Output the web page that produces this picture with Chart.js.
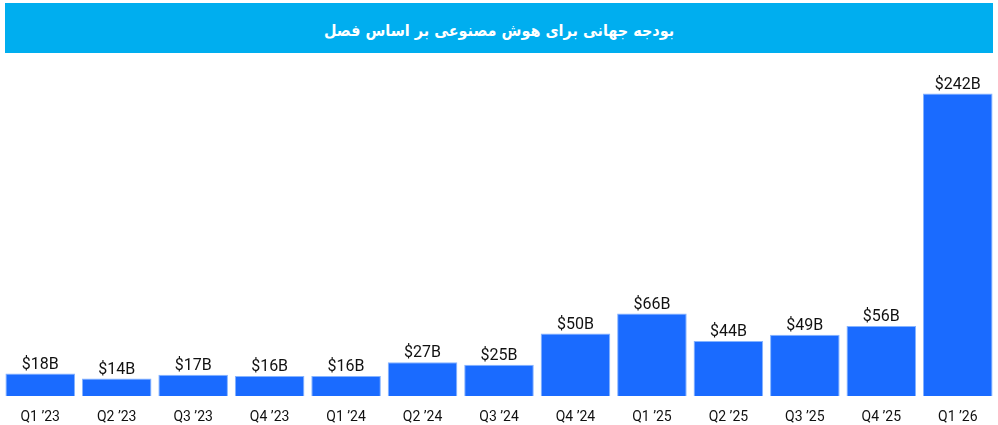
<!DOCTYPE html>
<html>
<head>
<meta charset="utf-8">
<script src="https://cdn.jsdelivr.net/npm/chart.js@4"></script>
<style>
    html, body { margin: 0; padding: 0; background: #fff; }
    #wrap { position: relative; width: 998px; height: 425px; }
    #title {
        position: absolute; left: 5px; top: 3px; width: 988px; height: 50px;
        box-sizing: border-box; padding-top: 5px;
        background: #00aeef; color: #fff;
        font-family: "DejaVu Sans Condensed", "DejaVu Sans", sans-serif; font-stretch: condensed;
        font-weight: bold; font-size: 16px;
        display: flex; align-items: center; justify-content: center;
        direction: rtl;
    }
    #ai-budget-chart { position: absolute; left: 0; top: 0; }
</style>
</head>
<body>
<div id="wrap">
    <canvas id="ai-budget-chart" width="998" height="425"></canvas>
    <div id="title">بودجه جهانی برای هوش مصنوعی بر اساس فصل</div>
</div>
<script>
// Quarterly AI spend (billions USD)
const quarters = ['Q1 ’23', 'Q2 ’23', 'Q3 ’23', 'Q4 ’23', 'Q1 ’24', 'Q2 ’24', 'Q3 ’24',
    'Q4 ’24', 'Q1 ’25', 'Q2 ’25', 'Q3 ’25', 'Q4 ’25', 'Q1 ’26'];
const budget = [18, 14, 17, 16, 16, 27, 25, 50, 66, 44, 49, 56, 242];

// draws "$xxB" above each bar
const valueLabels = {
    id: 'valueLabels',
    afterDatasetsDraw(chart) {
        const ctx = chart.ctx;
        const meta = chart.getDatasetMeta(0);
        ctx.save();
        ctx.font = '16px Roboto';
        ctx.fillStyle = '#111';
        ctx.textAlign = 'center';
        ctx.textBaseline = 'alphabetic';
        meta.data.forEach((bar, i) => {
            ctx.fillText('$' + budget[i] + 'B', bar.x, bar.y - 5);
        });
        ctx.restore();
    }
};

document.addEventListener('DOMContentLoaded', () => {
    const ctx = document.getElementById('ai-budget-chart').getContext('2d');
    new Chart(ctx, {
        type: 'bar',
        data: {
            labels: quarters,
            datasets: [{
                data: budget,
                backgroundColor: '#1a6bff',
                borderColor: '#86b4ff',
                borderWidth: 1,
                categoryPercentage: 0.91,
                barPercentage: 1
            }]
        },
        options: {
            responsive: false,
            animation: false,
            layout: { padding: { left: 2, right: 2, top: 71, bottom: 0 } },
            plugins: { legend: { display: false }, tooltip: { enabled: false } },
            scales: {
                x: {
                    grid: { display: false },
                    border: { display: false },
                    ticks: { color: '#111', font: { family: 'Roboto', size: 14 }, padding: 5, maxRotation: 0 },
                    afterFit(scale) { scale.height = 29; }
                },
                y: {
                    display: false,
                    beginAtZero: true,
                    max: 260
                }
            }
        },
        plugins: [valueLabels]
    });
});
</script>
</body>
</html>
